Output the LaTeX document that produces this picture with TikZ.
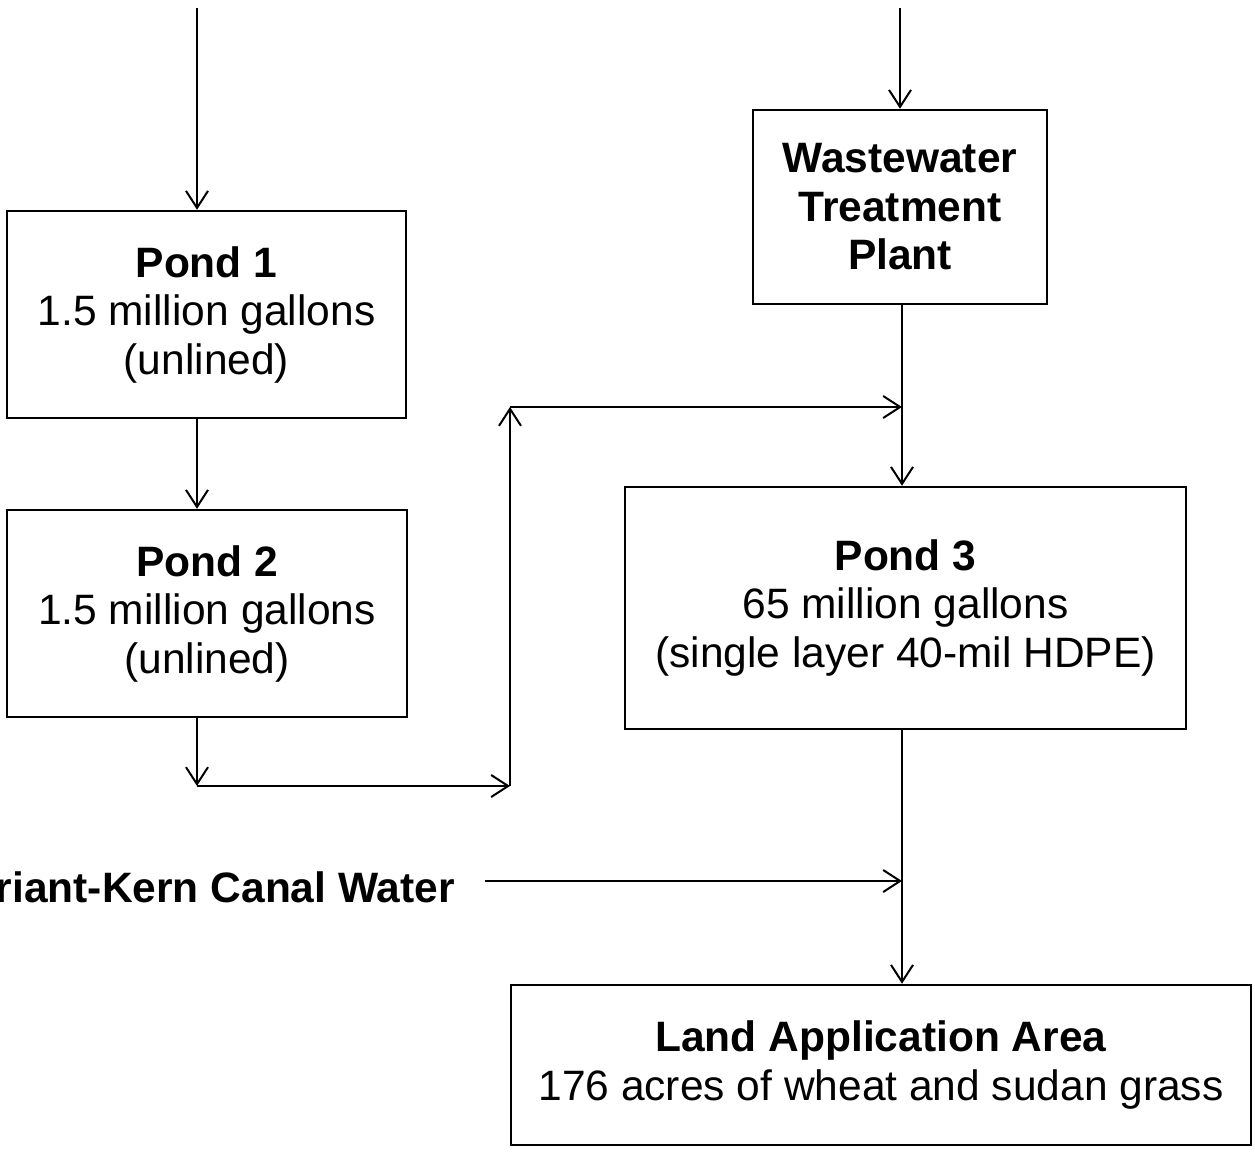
\documentclass[tikz,border=0pt]{standalone}
\usepackage{fontspec}
\setmainfont{Liberation Sans}
\usetikzlibrary{arrows.meta}
\tikzset{
  box/.style={draw, line width=2.5pt, rectangle, inner sep=0pt, align=center,
    font=\fontsize{42.5}{48.5}\selectfont},
  flow/.style={line width=2pt, -{Straight Barb[length=17pt,width=22pt,line width=2pt]}},
  lbl/.style={inner sep=0pt, font=\fontsize{42.5}{48.5}\selectfont\bfseries}
}
\begin{document}
\begin{tikzpicture}[x=1pt,y=-1pt]
\useasboundingbox (0,0) rectangle (1255,1151);
\clip (0,0) rectangle (1255,1151);
\fill[white] (0,0) rectangle (1255,1151);

% boxes
\node[box, minimum width=399pt, minimum height=207pt] (pond1) at (206.5,314.5)
  {\textbf{Pond 1}\\1.5 million gallons\\(unlined)};
\node[box, minimum width=400pt, minimum height=207pt] (pond2) at (207,613.5)
  {\textbf{Pond 2}\\1.5 million gallons\\(unlined)};
\node[box, minimum width=294pt, minimum height=194pt] (wtp) at (900,207)
  {\textbf{Wastewater}\\\textbf{Treatment}\\\textbf{Plant}};
\node[box, minimum width=561pt, minimum height=242pt] (pond3) at (905.5,608)
  {\textbf{Pond 3}\\65 million gallons\\(single layer 40-mil HDPE)};
\node[box, minimum width=740pt, minimum height=160pt] (land) at (881,1065)
  {\textbf{Land Application Area}\\176 acres of wheat and sudan grass};

% label
\node[lbl, anchor=base east] (canal) at (455,902) {Friant-Kern Canal Water};

% coordinates
\coordinate (src1) at (197,8);
\coordinate (src2) at (900,8);
\coordinate (c1) at (197,786);
\coordinate (c2) at (510,786);
\coordinate (c3) at (510,407);
\coordinate (j1) at (902,407);
\coordinate (k0) at (485,881);
\coordinate (k1) at (902,881);

% connectors
\draw[flow] (src1) -- (src1 |- pond1.north);
\draw[flow] (src1 |- pond1.south) -- (src1 |- pond2.north);
\draw[flow] (src1 |- pond2.south) -- (c1);
\draw[flow] (c1) -- (c2);
\draw[flow] (c2) -- (c3);
\draw[flow] (c3) -- (j1);
\draw[flow] (src2) -- (wtp.north);
\draw[flow] (j1 |- wtp.south) -- (j1 |- pond3.north);
\draw[flow] (j1 |- pond3.south) -- (j1 |- land.north);
\draw[flow] (k0) -- (k1);
\end{tikzpicture}
\end{document}
